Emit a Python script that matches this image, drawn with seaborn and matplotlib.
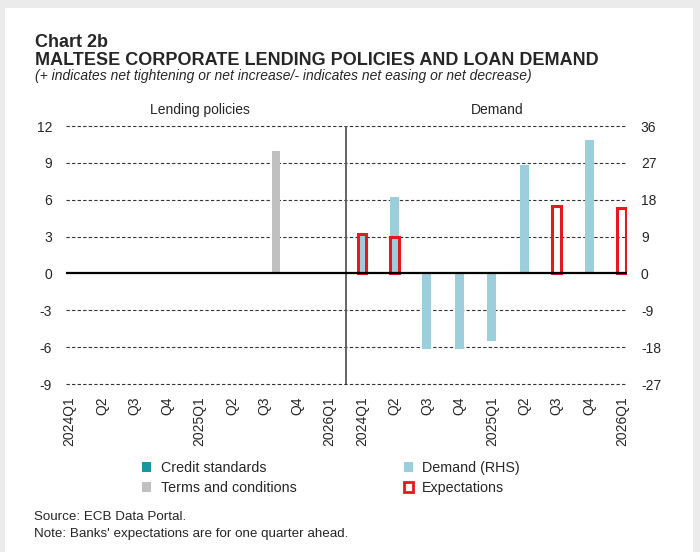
import numpy as np
import pandas as pd
import matplotlib
matplotlib.use("Agg")
import matplotlib.pyplot as plt
import seaborn as sns
from matplotlib.patches import Patch, Rectangle
from matplotlib.transforms import blended_transform_factory

sns.set_theme(style="white")
plt.rcParams["font.family"] = ["Liberation Sans", "DejaVu Sans"]

# data
quarters = ["2024Q1", "Q2", "Q3", "Q4", "2025Q1", "Q2", "Q3", "Q4", "2026Q1"]
credit_standards = [0, 0, 0, 0, 0, 0, 0, 0, 0]
terms_conditions = [0, 0, 0, 0, 0, 0, 10, 0, 0]
demand = [9.1, 18.6, -18.5, -18.5, -16.5, 26.5, np.nan, 32.5, np.nan]
expectations = [9.6, 9.0, np.nan, np.nan, np.nan, np.nan, 16.5, np.nan, 16.0]
left_ticks = [-9, -6, -3, 0, 3, 6, 9, 12]
right_ticks = [-27, -18, -9, 0, 9, 18, 27, 36]

n = len(quarters)
df_left = pd.DataFrame({
    "pos": np.arange(n),
    "Credit standards": credit_standards,
    "Terms and conditions": terms_conditions,
})
df_right = pd.DataFrame({
    "pos": np.arange(n) + n,
    "Demand (RHS)": demand,
    "Expectations": expectations,
})

c_credit = "#16989C"
c_terms = "#C0C0C0"
c_demand = "#9BCFDB"
c_exp = "#E3191F"

fig = plt.figure(figsize=(7.0, 5.52), dpi=100)
fig.patch.set_facecolor("#EBEBEB")
fig.add_artist(Rectangle((5 / 700, 0), 688 / 700, 1 - 8 / 552,
                         transform=fig.transFigure, facecolor="white",
                         edgecolor="none", zorder=-5))

ax = fig.add_axes([66 / 700, 1 - 384 / 552, 561 / 700, 258 / 552])
ax2 = ax.twinx()

# left panel: lending policies (LHS)
d = df_left.assign(pos=df_left["pos"] - 0.35)
sns.barplot(data=d, x="pos", y="Credit standards", native_scale=True,
            color=c_credit, saturation=1, width=0.26, errorbar=None,
            linewidth=0, ax=ax)
d = df_left.assign(pos=df_left["pos"] + 0.35)
sns.barplot(data=d, x="pos", y="Terms and conditions", native_scale=True,
            color=c_terms, saturation=1, width=0.26, errorbar=None,
            linewidth=0, ax=ax)

# right panel: demand and expectations (RHS)
d = df_right[["pos", "Demand (RHS)"]].dropna()
sns.barplot(data=d, x="pos", y="Demand (RHS)", native_scale=True,
            color=c_demand, saturation=1, width=0.28, errorbar=None,
            linewidth=0, ax=ax2)
d = df_right[["pos", "Expectations"]].dropna()
sns.barplot(data=d, x="pos", y="Expectations", native_scale=True,
            color=c_exp, saturation=1, fill=False, width=0.27,
            errorbar=None, linewidth=2.2, ax=ax2)

ax.set_ylim(-9, 12)
ax2.set_ylim(-27, 36)
ax.set_xlim(-0.11, 17.16)

for t in left_ticks:
    if t != 0:
        ax.axhline(t, color="#333333", lw=0.8, ls=(0, (3, 2)), zorder=0,
                   clip_on=False)
ax2.axhline(0, color="black", lw=1.6, zorder=5)
ax.plot([8.5, 8.5], [-9, 12], color="#595959", lw=1.3, zorder=1)

ax.set_yticks(left_ticks)
ax.set_yticklabels([str(t) for t in left_ticks])
ax2.set_yticks(right_ticks)
ax2.set_yticklabels([str(t) for t in right_ticks])
ax.set_xticks(range(2 * n))
ax.set_xticklabels(quarters + quarters, rotation=90)
ax.tick_params(axis="x", length=0, pad=9, labelsize=10)
ax.tick_params(axis="y", length=0, pad=10, labelsize=10)
ax2.tick_params(axis="y", length=0, pad=10, labelsize=10)
ax.set_xlabel("")
ax.set_ylabel("")
ax2.set_ylabel("")
for a in (ax, ax2):
    for s in a.spines.values():
        s.set_visible(False)
    a.grid(False)

tr = blended_transform_factory(ax.transData, ax.transAxes)
ax.text(4.0, 1.045, "Lending policies", transform=tr, ha="center",
        va="baseline", fontsize=10)
ax.text(13.15, 1.045, "Demand", transform=tr, ha="center",
        va="baseline", fontsize=10)

fig.text(35 / 700, 1 - 47 / 552, "Chart 2b", fontsize=13, fontweight="bold",
         va="baseline")
fig.text(35 / 700, 1 - 65 / 552,
         "MALTESE CORPORATE LENDING POLICIES AND LOAN DEMAND",
         fontsize=13, fontweight="bold", va="baseline")
fig.text(35 / 700, 1 - 80 / 552,
         "(+ indicates net tightening or net increase/- indicates net easing or net decrease)",
         fontsize=10, style="italic", va="baseline")

handles = [
    Patch(facecolor=c_credit, edgecolor="none", label="Credit standards"),
    Patch(facecolor=c_terms, edgecolor="none", label="Terms and conditions"),
    Patch(facecolor=c_demand, edgecolor="none", label="Demand (RHS)"),
    Patch(facecolor="white", edgecolor=c_exp, linewidth=2, label="Expectations"),
]
fig.legend(handles=handles, loc="upper left",
           bbox_to_anchor=(142 / 700, 1 - 461 / 552), ncol=2, frameon=False,
           fontsize=10.3, handlelength=0.65, handleheight=0.65,
           handletextpad=0.65, columnspacing=7.5, labelspacing=0.42,
           borderpad=0, borderaxespad=0)

fig.text(34 / 700, 1 - 520 / 552, "Source: ECB Data Portal.", fontsize=9.6,
         va="baseline")
fig.text(34 / 700, 1 - 537 / 552,
         "Note: Banks' expectations are for one quarter ahead.", fontsize=9.6,
         va="baseline")

fig.savefig("out.png", dpi=100, facecolor=fig.get_facecolor())
